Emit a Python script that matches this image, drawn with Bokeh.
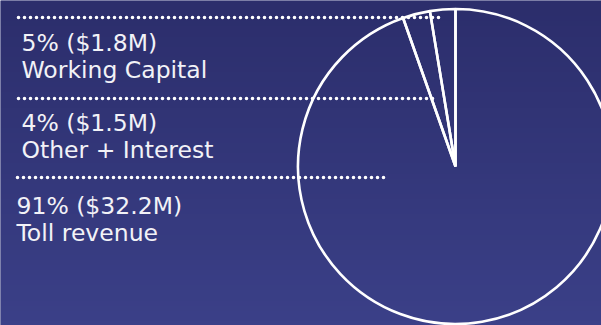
import numpy as np
from bokeh.plotting import figure
from bokeh.models import Range1d, ColumnDataSource
from bokeh.core.properties import value
from bokeh.embed import file_html
from bokeh.resources import INLINE

# ---- data ----
names = ["Working Capital", "Other + Interest", "Toll revenue"]
percents = ["5%", "4%", "91%"]
amounts = ["$1.8M", "$1.5M", "$32.2M"]
# slice shares as drawn in the picture (counter-clockwise from 12 o'clock)
drawn_share = [0.026, 0.028, 0.946]

W, H = 601, 325
p = figure(width=W, height=H, output_backend="svg", toolbar_location=None,
           x_range=Range1d(0, W), y_range=Range1d(0, H), min_border=0)
p.axis.visible = False
p.grid.visible = False
p.outline_line_color = None
p.background_fill_color = "#32367a"
p.border_fill_color = "#32367a"

# vertical gradient background
top = np.array([44, 46, 108])
bot = np.array([59, 64, 136])
n = 64
t = np.linspace(0, 1, n)[:, None]
cols = (bot * (1 - t) + top * t).astype(np.uint32)  # row 0 at bottom
img = np.empty((n, 1), dtype=np.uint32)
view = img.view(dtype=np.uint8).reshape((n, 1, 4))
view[:, 0, 0] = cols[:, 0]
view[:, 0, 1] = cols[:, 1]
view[:, 0, 2] = cols[:, 2]
view[:, 0, 3] = 255
p.image_rgba(image=[img], x=0, y=0, dw=W, dh=H)

# pie
cx, cy, r = 455, H - 166, 157.5
cum = np.concatenate([[0], np.cumsum(drawn_share)])
start = np.pi / 2 + 2 * np.pi * cum[:-1]
end = np.pi / 2 + 2 * np.pi * cum[1:]
src = ColumnDataSource(dict(start=start, end=end))
p.wedge(x=cx, y=cy, radius=r, start_angle="start", end_angle="end", source=src,
        fill_color=None, line_color="white", line_width=2.6, direction="anticlock")

# leader dotted lines
line_y = [H - 17, H - 98, H - 177]
line_x0 = [18, 18, 17]
line_x1 = [443, 437, 384]
for x0, x1, y in zip(line_x0, line_x1, line_y):
    p.line([x0, x1], [y, y], line_color="white", line_width=3.6,
           line_dash="0 6", line_cap="round")

# labels
lab_x = [21, 21, 16]
first_base = [42, 122, 205]
second_base = [69, 149, 232]
top_txt = [f"{pc} ({am})" for pc, am in zip(percents, amounts)]
FONT = value("DejaVu Sans")
p.text(x=lab_x, y=[H - b for b in first_base], text=top_txt,
       text_color="#f2f2f7", text_font=FONT, text_font_size="23.5px",
       text_baseline="alphabetic", text_align="left")
p.text(x=lab_x, y=[H - b for b in second_base], text=names,
       text_color="#f2f2f7", text_font=FONT, text_font_size="23.5px",
       text_baseline="alphabetic", text_align="left")

open("out.html", "w").write(file_html(p, INLINE))
